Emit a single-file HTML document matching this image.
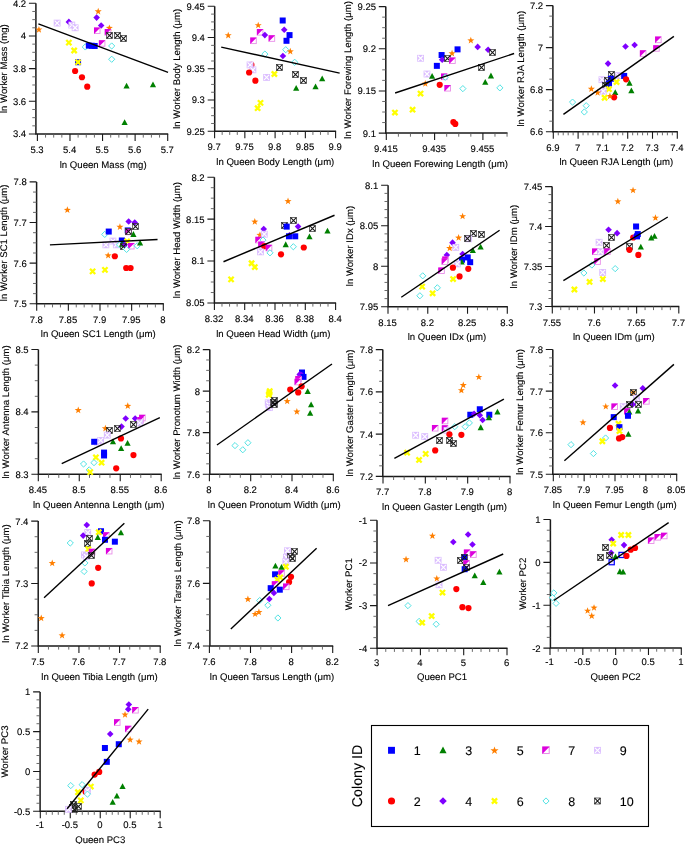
<!DOCTYPE html>
<html><head><meta charset="utf-8"><style>
html,body{margin:0;padding:0;background:#fff;}
svg{display:block;}
text{text-rendering:geometricPrecision;font-family:"Liberation Sans", sans-serif;font-size:9.5px;fill:#000;stroke:#000;stroke-width:0.12px;}
</style></head><body>
<div style="position:relative;width:685px;height:844px;overflow:hidden">
<svg width="685" height="844" viewBox="0 0 685 844" style="position:absolute;left:0;top:0">
<defs>
<g id="m1"><rect x="-3" y="-3" width="6" height="6" fill="#0000ff"/></g>
<g id="m2"><circle r="3.1" fill="#ff0000"/></g>
<g id="m3"><path d="M0 -3.3L3.1 2.5H-3.1Z" fill="#008000"/></g>
<g id="m4"><path d="M0 -3.3L3.3 0L0 3.3L-3.3 0Z" fill="#7f00ff"/></g>
<g id="m5"><polygon points="0,-3.4 0.88,-0.91 3.52,-0.84 1.43,0.76 2.17,3.29 0,1.8 -2.17,3.29 -1.43,0.76 -3.52,-0.84 -0.88,-0.91" fill="#ff7f00"/></g>
<g id="m6"><path d="M-2.6 -2.6L2.6 2.6M2.6 -2.6L-2.6 2.6" stroke="#ffff00" stroke-width="2.3"/></g>
<g id="m7"><rect x="-2.8" y="-2.8" width="5.6" height="5.6" fill="#fff" stroke="#e88ee8" stroke-width="0.9"/><path d="M-3.25 -3.25H3.25L-3.25 3.25Z" fill="#dd00dd"/></g>
<g id="m8"><path d="M0 -3.1L3.1 0L0 3.1L-3.1 0Z" fill="#fff" stroke="#40dfe0" stroke-width="0.9"/></g>
<g id="m9"><rect x="-3.4" y="-3.4" width="6.8" height="6.8" fill="#dbbdff"/><path d="M-2.5 -2.5L2.5 2.5M2.5 -2.5L-2.5 2.5" stroke="#fff" stroke-width="1.15"/></g>
<g id="m10"><rect x="-3" y="-3" width="6" height="6" fill="none" stroke="#333" stroke-width="0.7"/><path d="M-2.8 -2.8L2.8 2.8M2.8 -2.8L-2.8 2.8" stroke="#1a1a1a" stroke-width="1.1"/></g>
<g id="m11"><rect x="-2.6" y="-2.6" width="5.2" height="5.2" fill="#efe4ff" stroke="#0000ff" stroke-width="1.2"/></g>
</defs>
<g><path d="M35.9 3.3V134.6M35.2 134H168.2" stroke="#1a1a1a" stroke-width="1.5" fill="none"/><path d="M37.4 134v7M69.98 134v7M102.55 134v7M135.12 134v7M167.7 134v7M35.9 134h-7M35.9 101.32h-7M35.9 68.65h-7M35.9 35.98h-7M35.9 3.3h-7" stroke="#1a1a1a" stroke-width="1.1" fill="none"/><path d="M45.54 134v3.6M53.69 134v3.6M61.83 134v3.6M78.12 134v3.6M86.26 134v3.6M94.41 134v3.6M110.69 134v3.6M118.84 134v3.6M126.98 134v3.6M143.27 134v3.6M151.41 134v3.6M159.56 134v3.6M35.9 125.83h-3.6M35.9 117.66h-3.6M35.9 109.49h-3.6M35.9 93.16h-3.6M35.9 84.99h-3.6M35.9 76.82h-3.6M35.9 60.48h-3.6M35.9 52.31h-3.6M35.9 44.14h-3.6M35.9 27.81h-3.6M35.9 19.64h-3.6M35.9 11.47h-3.6" stroke="#5a5a5a" stroke-width="0.9" fill="none"/><use href="#m5" x="38.93" y="29.34"/><use href="#m9" x="57.13" y="23.08"/><use href="#m4" x="68.86" y="21.91"/><use href="#m9" x="71.8" y="25.04"/><use href="#m9" x="75.12" y="27.78"/><use href="#m5" x="98.21" y="11.15"/><use href="#m4" x="96.64" y="17.61"/><use href="#m4" x="101.14" y="25.43"/><use href="#m7" x="97.23" y="30.71"/><use href="#m5" x="109.36" y="27.78"/><use href="#m7" x="107.99" y="32.28"/><use href="#m10" x="109.5" y="35.5"/><use href="#m10" x="117.5" y="35.5"/><use href="#m10" x="123.5" y="38.5"/><use href="#m7" x="102.12" y="43.43"/><use href="#m6" x="68.86" y="42.64"/><use href="#m6" x="74.15" y="50.47"/><use href="#m8" x="85.3" y="46.95"/><use href="#m1" x="88.82" y="45.58"/><use href="#m1" x="91.75" y="45.77"/><use href="#m1" x="94.69" y="45.97"/><use href="#m8" x="111.7" y="45.97"/><use href="#m8" x="111.7" y="59.27"/><use href="#m1" x="78.06" y="62.21"/><use href="#m6" x="78.06" y="62.21"/><use href="#m2" x="75.12" y="71.01"/><use href="#m2" x="81.97" y="77.27"/><use href="#m2" x="87.25" y="86.66"/><use href="#m3" x="126.57" y="86.07"/><use href="#m3" x="152.98" y="84.7"/><use href="#m3" x="124.62" y="122.46"/><path d="M38.35 23.87L168.04 72.38" stroke="#000" stroke-width="1.4"/></g>
<g><path d="M214.7 6.3V131.9M214 131.3H336.1" stroke="#1a1a1a" stroke-width="1.5" fill="none"/><path d="M214.6 131.3v7M244.85 131.3v7M275.1 131.3v7M305.35 131.3v7M335.6 131.3v7M214.7 131.3h-7M214.7 100.05h-7M214.7 68.8h-7M214.7 37.55h-7M214.7 6.3h-7" stroke="#1a1a1a" stroke-width="1.1" fill="none"/><path d="M222.16 131.3v3.6M229.73 131.3v3.6M237.29 131.3v3.6M252.41 131.3v3.6M259.98 131.3v3.6M267.54 131.3v3.6M282.66 131.3v3.6M290.23 131.3v3.6M297.79 131.3v3.6M312.91 131.3v3.6M320.48 131.3v3.6M328.04 131.3v3.6M214.7 123.49h-3.6M214.7 115.67h-3.6M214.7 107.86h-3.6M214.7 92.24h-3.6M214.7 84.42h-3.6M214.7 76.61h-3.6M214.7 60.99h-3.6M214.7 53.17h-3.6M214.7 45.36h-3.6M214.7 29.74h-3.6M214.7 21.92h-3.6M214.7 14.11h-3.6" stroke="#5a5a5a" stroke-width="0.9" fill="none"/><use href="#m5" x="228.23" y="35.11"/><use href="#m5" x="258.22" y="25.05"/><use href="#m7" x="260.12" y="32.26"/><use href="#m4" x="264.86" y="35.11"/><use href="#m7" x="253.48" y="40.8"/><use href="#m7" x="271.89" y="38.53"/><use href="#m1" x="282.7" y="20.5"/><use href="#m4" x="284.22" y="29.8"/><use href="#m1" x="289.54" y="35.11"/><use href="#m1" x="286.5" y="40.8"/><use href="#m8" x="285.74" y="49.72"/><use href="#m5" x="290.3" y="51.24"/><use href="#m8" x="264.86" y="54.09"/><use href="#m4" x="282.89" y="55.99"/><use href="#m8" x="294.66" y="62.25"/><use href="#m2" x="251.39" y="64.91"/><use href="#m9" x="250.06" y="64.91"/><use href="#m9" x="252.91" y="69.84"/><use href="#m2" x="249.11" y="72.5"/><use href="#m2" x="255.37" y="80.66"/><use href="#m9" x="266.57" y="77.43"/><use href="#m6" x="274.35" y="74.02"/><use href="#m10" x="279.5" y="67.5"/><use href="#m10" x="295.5" y="74.5"/><use href="#m10" x="303.5" y="80.5"/><use href="#m3" x="322.18" y="78.76"/><use href="#m3" x="315.54" y="86.73"/><use href="#m3" x="296.18" y="88.25"/><use href="#m6" x="260.5" y="102.87"/><use href="#m6" x="257.65" y="108.18"/><path d="M221.21 47.07L339.64 73.07" stroke="#000" stroke-width="1.4"/></g>
<g><path d="M385.8 6.6V133.7M385.1 133.1H507.55" stroke="#1a1a1a" stroke-width="1.5" fill="none"/><path d="M386.3 133.1v7M434.6 133.1v7M482.9 133.1v7M385.8 133.1h-7M385.8 90.93h-7M385.8 48.77h-7M385.8 6.6h-7" stroke="#1a1a1a" stroke-width="1.1" fill="none"/><path d="M398.38 133.1v3.6M410.45 133.1v3.6M422.53 133.1v3.6M446.68 133.1v3.6M458.75 133.1v3.6M470.83 133.1v3.6M494.98 133.1v3.6M507.05 133.1v3.6M385.8 122.56h-3.6M385.8 112.02h-3.6M385.8 101.48h-3.6M385.8 80.39h-3.6M385.8 69.85h-3.6M385.8 59.31h-3.6M385.8 38.22h-3.6M385.8 27.68h-3.6M385.8 17.14h-3.6" stroke="#5a5a5a" stroke-width="0.9" fill="none"/><use href="#m5" x="470.84" y="40.24"/><use href="#m4" x="477.67" y="46.88"/><use href="#m4" x="488.11" y="49.72"/><use href="#m10" x="492.5" y="52.5"/><use href="#m1" x="457.55" y="49.35"/><use href="#m5" x="452.05" y="53.14"/><use href="#m1" x="441.61" y="55.04"/><use href="#m4" x="442.18" y="59.78"/><use href="#m10" x="447.5" y="58.5"/><use href="#m7" x="452.43" y="60.73"/><use href="#m9" x="420.54" y="58.27"/><use href="#m1" x="436.86" y="65.86"/><use href="#m10" x="481.5" y="67.5"/><use href="#m9" x="426.99" y="74.02"/><use href="#m3" x="432.12" y="76.3"/><use href="#m7" x="444.27" y="76.86"/><use href="#m8" x="445.21" y="77.24"/><use href="#m3" x="490.95" y="75.92"/><use href="#m3" x="485.26" y="82.18"/><use href="#m5" x="425.29" y="83.51"/><use href="#m2" x="439.71" y="84.84"/><use href="#m7" x="447.68" y="88.25"/><use href="#m8" x="462.86" y="88.63"/><use href="#m8" x="499.87" y="87.87"/><use href="#m6" x="420.54" y="93.57"/><use href="#m6" x="412.57" y="109.7"/><use href="#m6" x="394.92" y="112.55"/><use href="#m2" x="453.38" y="122.03"/><use href="#m2" x="455.27" y="123.93"/><path d="M395.11 93L514.11 53.52" stroke="#000" stroke-width="1.4"/></g>
<g><path d="M552.9 5.6V132.3M552.2 131.7H677.8" stroke="#1a1a1a" stroke-width="1.5" fill="none"/><path d="M553.3 131.7v7M578.1 131.7v7M602.9 131.7v7M627.7 131.7v7M652.5 131.7v7M677.3 131.7v7M552.9 131.7h-7M552.9 89.67h-7M552.9 47.63h-7M552.9 5.6h-7" stroke="#1a1a1a" stroke-width="1.1" fill="none"/><path d="M558.26 131.7v3.6M563.22 131.7v3.6M568.18 131.7v3.6M573.14 131.7v3.6M583.06 131.7v3.6M588.02 131.7v3.6M592.98 131.7v3.6M597.94 131.7v3.6M607.86 131.7v3.6M612.82 131.7v3.6M617.78 131.7v3.6M622.74 131.7v3.6M632.66 131.7v3.6M637.62 131.7v3.6M642.58 131.7v3.6M647.54 131.7v3.6M657.46 131.7v3.6M662.42 131.7v3.6M667.38 131.7v3.6M672.34 131.7v3.6M552.9 121.19h-3.6M552.9 110.68h-3.6M552.9 100.17h-3.6M552.9 79.16h-3.6M552.9 68.65h-3.6M552.9 58.14h-3.6M552.9 37.13h-3.6M552.9 26.62h-3.6M552.9 16.11h-3.6" stroke="#5a5a5a" stroke-width="0.9" fill="none"/><use href="#m7" x="658.33" y="39.86"/><use href="#m7" x="656.44" y="48.4"/><use href="#m7" x="643.15" y="53.52"/><use href="#m4" x="625.5" y="46.5"/><use href="#m4" x="634.61" y="44.98"/><use href="#m4" x="608.04" y="63.58"/><use href="#m9" x="601.97" y="79.71"/><use href="#m9" x="618.48" y="75.54"/><use href="#m1" x="624.17" y="75.92"/><use href="#m2" x="626.07" y="79.33"/><use href="#m10" x="611.5" y="74.5"/><use href="#m1" x="610.89" y="78.76"/><use href="#m10" x="607.5" y="80.5"/><use href="#m1" x="608.99" y="83.51"/><use href="#m10" x="605.5" y="85.5"/><use href="#m6" x="616.58" y="81.99"/><use href="#m3" x="629.49" y="83.13"/><use href="#m3" x="631.38" y="90.72"/><use href="#m6" x="608.99" y="89.2"/><use href="#m9" x="603.29" y="91.1"/><use href="#m5" x="591.34" y="88.63"/><use href="#m5" x="597.6" y="92.43"/><use href="#m3" x="615.25" y="92.43"/><use href="#m2" x="614.11" y="97.36"/><use href="#m5" x="609.94" y="95.84"/><use href="#m6" x="604.62" y="97.74"/><use href="#m8" x="572.55" y="102.11"/><use href="#m8" x="586.21" y="105.71"/><use href="#m8" x="584.32" y="111.98"/><path d="M563.44 114.44L673.9 36.44" stroke="#000" stroke-width="1.4"/></g>
<g><path d="M36.6 181.9V304.4M35.9 303.8H163.8" stroke="#1a1a1a" stroke-width="1.5" fill="none"/><path d="M36.7 303.8v7M68.35 303.8v7M100 303.8v7M131.65 303.8v7M163.3 303.8v7M36.6 303.8h-7M36.6 263.17h-7M36.6 222.53h-7M36.6 181.9h-7" stroke="#1a1a1a" stroke-width="1.1" fill="none"/><path d="M44.61 303.8v3.6M52.52 303.8v3.6M60.44 303.8v3.6M76.26 303.8v3.6M84.18 303.8v3.6M92.09 303.8v3.6M107.91 303.8v3.6M115.82 303.8v3.6M123.74 303.8v3.6M139.56 303.8v3.6M147.47 303.8v3.6M155.39 303.8v3.6M36.6 293.64h-3.6M36.6 283.48h-3.6M36.6 273.33h-3.6M36.6 253.01h-3.6M36.6 242.85h-3.6M36.6 232.69h-3.6M36.6 212.38h-3.6M36.6 202.22h-3.6M36.6 192.06h-3.6" stroke="#5a5a5a" stroke-width="0.9" fill="none"/><use href="#m5" x="67.37" y="209.73"/><use href="#m4" x="128.67" y="221.5"/><use href="#m4" x="134.74" y="222.45"/><use href="#m10" x="135.5" y="226.5"/><use href="#m5" x="119.94" y="226.62"/><use href="#m8" x="104.75" y="234.4"/><use href="#m1" x="108.74" y="231.56"/><use href="#m1" x="127.72" y="230.42"/><use href="#m7" x="128.67" y="231.94"/><use href="#m10" x="128.5" y="231.5"/><use href="#m3" x="133.41" y="234.4"/><use href="#m1" x="121.84" y="240.48"/><use href="#m9" x="112.92" y="241.05"/><use href="#m9" x="105.89" y="244.84"/><use href="#m9" x="116.33" y="244.84"/><use href="#m8" x="119.56" y="244.84"/><use href="#m3" x="122.03" y="244.27"/><use href="#m6" x="127.15" y="241.43"/><use href="#m4" x="124.68" y="244.84"/><use href="#m10" x="123.5" y="246.5"/><use href="#m7" x="131.33" y="246.17"/><use href="#m8" x="126.58" y="249.4"/><use href="#m8" x="137.21" y="245.79"/><use href="#m3" x="140.06" y="242.94"/><use href="#m5" x="108.17" y="255.28"/><use href="#m2" x="114.81" y="256.23"/><use href="#m2" x="126.2" y="268"/><use href="#m2" x="130.57" y="268"/><use href="#m6" x="92.61" y="271.41"/><use href="#m6" x="104.94" y="269.89"/><path d="M49.91 244.84L157.52 239.53" stroke="#000" stroke-width="1.4"/></g>
<g><path d="M214.4 177.2V303.6M213.7 303H336.1" stroke="#1a1a1a" stroke-width="1.5" fill="none"/><path d="M214.4 303v7M244.7 303v7M275 303v7M305.3 303v7M335.6 303v7M214.4 303h-7M214.4 261.07h-7M214.4 219.13h-7M214.4 177.2h-7" stroke="#1a1a1a" stroke-width="1.1" fill="none"/><path d="M221.97 303v3.6M229.55 303v3.6M237.13 303v3.6M252.27 303v3.6M259.85 303v3.6M267.43 303v3.6M282.57 303v3.6M290.15 303v3.6M297.72 303v3.6M312.87 303v3.6M320.45 303v3.6M328.02 303v3.6M214.4 292.52h-3.6M214.4 282.03h-3.6M214.4 271.55h-3.6M214.4 250.58h-3.6M214.4 240.1h-3.6M214.4 229.62h-3.6M214.4 208.65h-3.6M214.4 198.17h-3.6M214.4 187.68h-3.6" stroke="#5a5a5a" stroke-width="0.9" fill="none"/><use href="#m5" x="288.02" y="201"/><use href="#m5" x="254.8" y="221.5"/><use href="#m10" x="293.5" y="220.5"/><use href="#m10" x="284.5" y="225.5"/><use href="#m1" x="286.69" y="226.62"/><use href="#m4" x="298.08" y="226.62"/><use href="#m10" x="312.5" y="228.5"/><use href="#m3" x="327.49" y="230.99"/><use href="#m4" x="263.72" y="229.09"/><use href="#m5" x="259.93" y="234.78"/><use href="#m9" x="264.29" y="234.21"/><use href="#m7" x="258.6" y="240.1"/><use href="#m8" x="262.97" y="240.1"/><use href="#m4" x="289.54" y="235.35"/><use href="#m1" x="288.97" y="236.3"/><use href="#m1" x="295.23" y="236.3"/><use href="#m3" x="309.46" y="236.68"/><use href="#m3" x="285.74" y="244.65"/><use href="#m8" x="293.33" y="246.74"/><use href="#m2" x="303.77" y="247.5"/><use href="#m7" x="261.45" y="244.84"/><use href="#m2" x="264.29" y="246.17"/><use href="#m7" x="269.04" y="248.07"/><use href="#m9" x="260.5" y="251.86"/><use href="#m8" x="269.99" y="252.81"/><use href="#m2" x="281" y="254.33"/><use href="#m6" x="251.58" y="263.25"/><use href="#m6" x="254.8" y="267.05"/><use href="#m6" x="231.08" y="279.38"/><path d="M223.49 261.73L334.52 215.24" stroke="#000" stroke-width="1.4"/></g>
<g><path d="M388.1 185.3V307.3M387.4 306.7H507.8" stroke="#1a1a1a" stroke-width="1.5" fill="none"/><path d="M388 306.7v7M427.77 306.7v7M467.53 306.7v7M507.3 306.7v7M388.1 306.7h-7M388.1 266.23h-7M388.1 225.77h-7M388.1 185.3h-7" stroke="#1a1a1a" stroke-width="1.1" fill="none"/><path d="M397.94 306.7v3.6M407.88 306.7v3.6M417.82 306.7v3.6M437.71 306.7v3.6M447.65 306.7v3.6M457.59 306.7v3.6M477.47 306.7v3.6M487.42 306.7v3.6M497.36 306.7v3.6M388.1 298.61h-3.6M388.1 290.51h-3.6M388.1 282.42h-3.6M388.1 274.33h-3.6M388.1 258.14h-3.6M388.1 250.05h-3.6M388.1 241.95h-3.6M388.1 233.86h-3.6M388.1 217.67h-3.6M388.1 209.58h-3.6M388.1 201.49h-3.6M388.1 193.39h-3.6" stroke="#5a5a5a" stroke-width="0.9" fill="none"/><use href="#m5" x="462.59" y="216.06"/><use href="#m10" x="473.5" y="233.5"/><use href="#m10" x="481.5" y="234.5"/><use href="#m9" x="468.66" y="238.83"/><use href="#m10" x="467.5" y="238.5"/><use href="#m5" x="458.6" y="237.51"/><use href="#m4" x="452.53" y="242.63"/><use href="#m5" x="449.68" y="247.94"/><use href="#m9" x="455.75" y="247.38"/><use href="#m3" x="480.62" y="247"/><use href="#m3" x="472.84" y="250.6"/><use href="#m4" x="446.83" y="254.97"/><use href="#m7" x="445.51" y="259.71"/><use href="#m7" x="444.94" y="261.61"/><use href="#m4" x="462.59" y="254.02"/><use href="#m1" x="467.71" y="257.43"/><use href="#m1" x="462.02" y="259.71"/><use href="#m3" x="461.64" y="261.99"/><use href="#m1" x="470.18" y="262.18"/><use href="#m9" x="457.27" y="263.89"/><use href="#m2" x="452.91" y="267.68"/><use href="#m2" x="468.28" y="268.82"/><use href="#m7" x="441.52" y="270.72"/><use href="#m2" x="459.55" y="276.41"/><use href="#m6" x="453.1" y="279.07"/><use href="#m8" x="422.73" y="275.84"/><use href="#m6" x="422.16" y="286.66"/><use href="#m8" x="437.35" y="287.8"/><use href="#m6" x="432.6" y="293.3"/><use href="#m8" x="419.88" y="295.77"/><path d="M401.29 297.29L499.6 230.29" stroke="#000" stroke-width="1.4"/></g>
<g><path d="M552.1 186.6V307.1M551.4 306.5H679.3" stroke="#1a1a1a" stroke-width="1.5" fill="none"/><path d="M552.3 306.5v7M594.47 306.5v7M636.63 306.5v7M678.8 306.5v7M552.1 306.5h-7M552.1 266.53h-7M552.1 226.57h-7M552.1 186.6h-7" stroke="#1a1a1a" stroke-width="1.1" fill="none"/><path d="M560.73 306.5v3.6M569.17 306.5v3.6M577.6 306.5v3.6M586.03 306.5v3.6M602.9 306.5v3.6M611.33 306.5v3.6M619.77 306.5v3.6M628.2 306.5v3.6M645.07 306.5v3.6M653.5 306.5v3.6M661.93 306.5v3.6M670.37 306.5v3.6M552.1 298.51h-3.6M552.1 290.51h-3.6M552.1 282.52h-3.6M552.1 274.53h-3.6M552.1 258.54h-3.6M552.1 250.55h-3.6M552.1 242.55h-3.6M552.1 234.56h-3.6M552.1 218.57h-3.6M552.1 210.58h-3.6M552.1 202.59h-3.6M552.1 194.59h-3.6" stroke="#5a5a5a" stroke-width="0.9" fill="none"/><use href="#m5" x="633.04" y="190.06"/><use href="#m5" x="617.86" y="201.26"/><use href="#m5" x="655.44" y="217.58"/><use href="#m1" x="636.08" y="226.5"/><use href="#m4" x="608.56" y="229.72"/><use href="#m4" x="617.1" y="233.14"/><use href="#m2" x="633.23" y="237.51"/><use href="#m4" x="635.51" y="235.99"/><use href="#m1" x="637.78" y="234.09"/><use href="#m1" x="637.03" y="236.37"/><use href="#m10" x="611.5" y="237.5"/><use href="#m3" x="651.26" y="237.89"/><use href="#m3" x="654.49" y="236.37"/><use href="#m9" x="599.07" y="242.25"/><use href="#m10" x="606.5" y="245.5"/><use href="#m10" x="629.5" y="246.5"/><use href="#m2" x="629.43" y="249.84"/><use href="#m3" x="640.82" y="247"/><use href="#m7" x="595.27" y="251.74"/><use href="#m9" x="600.4" y="251.74"/><use href="#m7" x="607.42" y="251.74"/><use href="#m2" x="638.35" y="254.97"/><use href="#m7" x="597.55" y="261.61"/><use href="#m8" x="591.86" y="265.03"/><use href="#m8" x="615.2" y="268.63"/><use href="#m8" x="583.88" y="273"/><use href="#m9" x="602.67" y="272.43"/><use href="#m6" x="602.86" y="279.07"/><use href="#m6" x="589.58" y="281.92"/><use href="#m6" x="574.4" y="289.51"/><path d="M563.39 280.59L667.77 217.01" stroke="#000" stroke-width="1.4"/></g>
<g><path d="M38.4 349.5V474.9M37.7 474.3H161.7" stroke="#1a1a1a" stroke-width="1.5" fill="none"/><path d="M38.3 474.3v7M79.27 474.3v7M120.23 474.3v7M161.2 474.3v7M38.4 474.3h-7M38.4 411.9h-7M38.4 349.5h-7" stroke="#1a1a1a" stroke-width="1.1" fill="none"/><path d="M48.54 474.3v3.6M58.78 474.3v3.6M69.03 474.3v3.6M89.51 474.3v3.6M99.75 474.3v3.6M109.99 474.3v3.6M130.48 474.3v3.6M140.72 474.3v3.6M150.96 474.3v3.6M38.4 458.7h-3.6M38.4 443.1h-3.6M38.4 427.5h-3.6M38.4 396.3h-3.6M38.4 380.7h-3.6M38.4 365.1h-3.6" stroke="#5a5a5a" stroke-width="0.9" fill="none"/><use href="#m5" x="78.24" y="409.91"/><use href="#m5" x="127.77" y="405.73"/><use href="#m4" x="125.68" y="418.45"/><use href="#m4" x="135.17" y="418.45"/><use href="#m7" x="142.38" y="418.07"/><use href="#m7" x="140.49" y="420.35"/><use href="#m9" x="139.54" y="422.81"/><use href="#m10" x="133.5" y="424.5"/><use href="#m4" x="121.51" y="426.61"/><use href="#m10" x="117.5" y="428.5"/><use href="#m5" x="105.38" y="428.13"/><use href="#m10" x="109.5" y="430.5"/><use href="#m9" x="107.27" y="435.15"/><use href="#m2" x="120.94" y="438.38"/><use href="#m9" x="97.4" y="442.17"/><use href="#m9" x="100.63" y="440.46"/><use href="#m1" x="94.18" y="441.79"/><use href="#m3" x="112.97" y="441.79"/><use href="#m3" x="127.58" y="443.31"/><use href="#m3" x="121.13" y="448.44"/><use href="#m1" x="104.05" y="452.61"/><use href="#m1" x="104.05" y="455.46"/><use href="#m2" x="133.46" y="455.08"/><use href="#m6" x="95.89" y="457.36"/><use href="#m6" x="101.58" y="462.67"/><use href="#m8" x="83.55" y="464"/><use href="#m8" x="93.99" y="462.67"/><use href="#m8" x="89.24" y="469.88"/><use href="#m6" x="90.19" y="472.16"/><use href="#m2" x="116.19" y="468.36"/><path d="M61.72 463.62L159.84 417.69" stroke="#000" stroke-width="1.4"/></g>
<g><path d="M209.8 349.6V474.8M209.1 474.2H333.8" stroke="#1a1a1a" stroke-width="1.5" fill="none"/><path d="M209.4 474.2v7M250.7 474.2v7M292 474.2v7M333.3 474.2v7M209.8 474.2h-7M209.8 432.67h-7M209.8 391.13h-7M209.8 349.6h-7" stroke="#1a1a1a" stroke-width="1.1" fill="none"/><path d="M219.73 474.2v3.6M230.05 474.2v3.6M240.37 474.2v3.6M261.03 474.2v3.6M271.35 474.2v3.6M281.67 474.2v3.6M302.32 474.2v3.6M312.65 474.2v3.6M322.97 474.2v3.6M209.8 463.82h-3.6M209.8 453.43h-3.6M209.8 443.05h-3.6M209.8 422.28h-3.6M209.8 411.9h-3.6M209.8 401.52h-3.6M209.8 380.75h-3.6M209.8 370.37h-3.6M209.8 359.98h-3.6" stroke="#5a5a5a" stroke-width="0.9" fill="none"/><use href="#m1" x="302" y="372.52"/><use href="#m4" x="299.72" y="374.42"/><use href="#m4" x="301.62" y="374.99"/><use href="#m1" x="303.52" y="376.88"/><use href="#m4" x="299.15" y="377.26"/><use href="#m7" x="298.58" y="379.16"/><use href="#m7" x="297.82" y="382.01"/><use href="#m2" x="301.62" y="386.37"/><use href="#m2" x="290.23" y="389.6"/><use href="#m2" x="298.2" y="392.45"/><use href="#m3" x="307.69" y="391.5"/><use href="#m3" x="311.11" y="404.78"/><use href="#m3" x="310.16" y="413.32"/><use href="#m5" x="287.19" y="400.99"/><use href="#m5" x="296.87" y="411.43"/><use href="#m6" x="269.73" y="391.12"/><use href="#m6" x="269.35" y="392.83"/><use href="#m6" x="268.78" y="394.72"/><use href="#m9" x="268.21" y="402.89"/><use href="#m9" x="268.78" y="404.78"/><use href="#m9" x="269.35" y="407.63"/><use href="#m10" x="274.5" y="400.5"/><use href="#m10" x="273.5" y="402.5"/><use href="#m10" x="274.5" y="404.5"/><use href="#m8" x="235" y="445.59"/><use href="#m8" x="242.78" y="449.76"/><use href="#m8" x="247.91" y="442.74"/><path d="M216.97 445.02L331.98 363.98" stroke="#000" stroke-width="1.4"/></g>
<g><path d="M382.8 349.6V477M382.1 476.4H510.5" stroke="#1a1a1a" stroke-width="1.5" fill="none"/><path d="M383 476.4v7M425.33 476.4v7M467.67 476.4v7M510 476.4v7M382.8 476.4h-7M382.8 434.13h-7M382.8 391.87h-7M382.8 349.6h-7" stroke="#1a1a1a" stroke-width="1.1" fill="none"/><path d="M393.58 476.4v3.6M404.17 476.4v3.6M414.75 476.4v3.6M435.92 476.4v3.6M446.5 476.4v3.6M457.08 476.4v3.6M478.25 476.4v3.6M488.83 476.4v3.6M499.42 476.4v3.6M382.8 465.83h-3.6M382.8 455.27h-3.6M382.8 444.7h-3.6M382.8 423.57h-3.6M382.8 413h-3.6M382.8 402.43h-3.6M382.8 381.3h-3.6M382.8 370.73h-3.6M382.8 360.17h-3.6" stroke="#5a5a5a" stroke-width="0.9" fill="none"/><use href="#m5" x="478.84" y="376.8"/><use href="#m5" x="463.28" y="384.96"/><use href="#m5" x="461.38" y="390.08"/><use href="#m1" x="479.79" y="409.25"/><use href="#m1" x="470.3" y="414.75"/><use href="#m4" x="474.1" y="413.81"/><use href="#m4" x="479.79" y="415.32"/><use href="#m4" x="482.64" y="420.07"/><use href="#m1" x="489.28" y="414.75"/><use href="#m3" x="488.9" y="417.79"/><use href="#m3" x="497.44" y="412.1"/><use href="#m3" x="480.74" y="427.66"/><use href="#m7" x="445.06" y="421.02"/><use href="#m7" x="435.19" y="428.23"/><use href="#m7" x="445.06" y="428.61"/><use href="#m9" x="446.96" y="430.51"/><use href="#m8" x="454.74" y="426.71"/><use href="#m8" x="465.18" y="426.71"/><use href="#m8" x="469.35" y="422.92"/><use href="#m2" x="449.43" y="434.3"/><use href="#m2" x="461.38" y="434.87"/><use href="#m9" x="415.64" y="435.25"/><use href="#m9" x="424.75" y="436.58"/><use href="#m10" x="439.5" y="440.5"/><use href="#m10" x="449.5" y="440.5"/><use href="#m10" x="453.5" y="443.5"/><use href="#m2" x="435.19" y="450.44"/><use href="#m6" x="407.1" y="452.71"/><use href="#m6" x="425.7" y="453.85"/><use href="#m6" x="419.06" y="459.92"/><path d="M394.39 458.41L503.9 399.19" stroke="#000" stroke-width="1.4"/></g>
<g><path d="M552.8 349.5V474.9M552.1 474.3H677.2" stroke="#1a1a1a" stroke-width="1.5" fill="none"/><path d="M553.3 474.3v7M584.15 474.3v7M615 474.3v7M645.85 474.3v7M676.7 474.3v7M552.8 474.3h-7M552.8 432.7h-7M552.8 391.1h-7M552.8 349.5h-7" stroke="#1a1a1a" stroke-width="1.1" fill="none"/><path d="M559.47 474.3v3.6M565.64 474.3v3.6M571.81 474.3v3.6M577.98 474.3v3.6M590.32 474.3v3.6M596.49 474.3v3.6M602.66 474.3v3.6M608.83 474.3v3.6M621.17 474.3v3.6M627.34 474.3v3.6M633.51 474.3v3.6M639.68 474.3v3.6M652.02 474.3v3.6M658.19 474.3v3.6M664.36 474.3v3.6M670.53 474.3v3.6M552.8 465.98h-3.6M552.8 457.66h-3.6M552.8 449.34h-3.6M552.8 441.02h-3.6M552.8 424.38h-3.6M552.8 416.06h-3.6M552.8 407.74h-3.6M552.8 399.42h-3.6M552.8 382.78h-3.6M552.8 374.46h-3.6M552.8 366.14h-3.6M552.8 357.82h-3.6" stroke="#5a5a5a" stroke-width="0.9" fill="none"/><use href="#m4" x="615.06" y="385.43"/><use href="#m4" x="642.77" y="388.27"/><use href="#m5" x="633.09" y="392.45"/><use href="#m10" x="633.5" y="392.5"/><use href="#m9" x="636.51" y="398.14"/><use href="#m7" x="646.38" y="401.37"/><use href="#m10" x="638.5" y="404.5"/><use href="#m4" x="632.71" y="404.4"/><use href="#m10" x="629.5" y="404.5"/><use href="#m9" x="623.22" y="406.68"/><use href="#m7" x="614.68" y="406.68"/><use href="#m5" x="605.76" y="406.3"/><use href="#m7" x="627.4" y="411.43"/><use href="#m3" x="629.3" y="412"/><use href="#m3" x="638.03" y="411.05"/><use href="#m1" x="627.97" y="415.79"/><use href="#m1" x="613.73" y="417.12"/><use href="#m5" x="582.99" y="422.24"/><use href="#m6" x="618.48" y="423.76"/><use href="#m1" x="619.43" y="427.18"/><use href="#m6" x="619.43" y="430.97"/><use href="#m2" x="609.94" y="427.94"/><use href="#m3" x="628.35" y="434.2"/><use href="#m2" x="622.27" y="437.05"/><use href="#m2" x="619.05" y="438.38"/><use href="#m8" x="605.57" y="438"/><use href="#m6" x="602.35" y="441.22"/><use href="#m8" x="571.03" y="444.64"/><use href="#m8" x="593.43" y="453.56"/><path d="M564.39 460.77L673.9 364.36" stroke="#000" stroke-width="1.4"/></g>
<g><path d="M38.2 521.1V646.6M37.5 646H160.7" stroke="#1a1a1a" stroke-width="1.5" fill="none"/><path d="M38.3 646v7M78.93 646v7M119.57 646v7M160.2 646v7M38.2 646h-7M38.2 583.55h-7M38.2 521.1h-7" stroke="#1a1a1a" stroke-width="1.1" fill="none"/><path d="M48.46 646v3.6M58.62 646v3.6M68.77 646v3.6M89.09 646v3.6M99.25 646v3.6M109.41 646v3.6M129.72 646v3.6M139.88 646v3.6M150.04 646v3.6M38.2 630.39h-3.6M38.2 614.78h-3.6M38.2 599.16h-3.6M38.2 567.94h-3.6M38.2 552.33h-3.6M38.2 536.71h-3.6" stroke="#5a5a5a" stroke-width="0.9" fill="none"/><use href="#m4" x="86.78" y="524.97"/><use href="#m9" x="87.72" y="532.56"/><use href="#m1" x="101.01" y="531.23"/><use href="#m6" x="98.73" y="532.18"/><use href="#m3" x="120.94" y="532.75"/><use href="#m4" x="83.17" y="535.6"/><use href="#m10" x="89.5" y="538.5"/><use href="#m3" x="97.78" y="537.5"/><use href="#m7" x="106.32" y="535.41"/><use href="#m1" x="105" y="539.77"/><use href="#m1" x="114.86" y="541.67"/><use href="#m8" x="70.26" y="543"/><use href="#m10" x="87.5" y="543.5"/><use href="#m6" x="88.29" y="549.26"/><use href="#m7" x="92.09" y="552.11"/><use href="#m9" x="84.5" y="554.96"/><use href="#m9" x="86.4" y="556.48"/><use href="#m10" x="91.5" y="555.5"/><use href="#m7" x="109.17" y="551.16"/><use href="#m8" x="84.88" y="562.93"/><use href="#m8" x="84.12" y="571.47"/><use href="#m2" x="98.16" y="567.86"/><use href="#m2" x="91.71" y="583.43"/><use href="#m5" x="52.23" y="562.93"/><use href="#m5" x="41.23" y="617.97"/><use href="#m5" x="62.1" y="635.24"/><path d="M44.07 597.66L124.35 523.26" stroke="#000" stroke-width="1.4"/></g>
<g><path d="M209.9 520.8V646.6M209.2 646H333.2" stroke="#1a1a1a" stroke-width="1.5" fill="none"/><path d="M209.4 646v7M250.5 646v7M291.6 646v7M332.7 646v7M209.9 646h-7M209.9 583.4h-7M209.9 520.8h-7" stroke="#1a1a1a" stroke-width="1.1" fill="none"/><path d="M219.67 646v3.6M229.95 646v3.6M240.23 646v3.6M260.78 646v3.6M271.05 646v3.6M281.33 646v3.6M301.88 646v3.6M312.15 646v3.6M322.43 646v3.6M209.9 630.35h-3.6M209.9 614.7h-3.6M209.9 599.05h-3.6M209.9 567.75h-3.6M209.9 552.1h-3.6M209.9 536.45h-3.6" stroke="#5a5a5a" stroke-width="0.9" fill="none"/><use href="#m9" x="287.38" y="550.78"/><use href="#m10" x="294.5" y="551.5"/><use href="#m9" x="286.43" y="557.24"/><use href="#m10" x="290.5" y="556.5"/><use href="#m10" x="292.5" y="558.5"/><use href="#m9" x="285.86" y="561.6"/><use href="#m6" x="285.86" y="566.72"/><use href="#m3" x="275.43" y="565.97"/><use href="#m3" x="281.5" y="567.29"/><use href="#m1" x="275.05" y="574.32"/><use href="#m7" x="281.5" y="573.56"/><use href="#m6" x="280.17" y="577.35"/><use href="#m6" x="277.32" y="579.63"/><use href="#m2" x="290.99" y="576.78"/><use href="#m2" x="289.09" y="582.1"/><use href="#m7" x="275.05" y="584.38"/><use href="#m1" x="270.68" y="588.17"/><use href="#m1" x="279.79" y="589.69"/><use href="#m7" x="286.24" y="586.84"/><use href="#m4" x="273.91" y="592.92"/><use href="#m4" x="269.35" y="598.99"/><use href="#m5" x="247.91" y="598.99"/><use href="#m8" x="259.67" y="600.51"/><use href="#m8" x="267.83" y="605.25"/><use href="#m5" x="258.91" y="611.89"/><use href="#m5" x="255.12" y="613.79"/><use href="#m8" x="277.89" y="617.97"/><path d="M230.83 628.98L316.61 548.32" stroke="#000" stroke-width="1.4"/></g>
<g><path d="M377 520.3V648.9M376.3 648.3H507.5" stroke="#1a1a1a" stroke-width="1.5" fill="none"/><path d="M377.1 648.3v7M420.4 648.3v7M463.7 648.3v7M507 648.3v7M377 648.3h-7M377 605.63h-7M377 562.97h-7M377 520.3h-7" stroke="#1a1a1a" stroke-width="1.1" fill="none"/><path d="M385.76 648.3v3.6M394.42 648.3v3.6M403.08 648.3v3.6M411.74 648.3v3.6M429.06 648.3v3.6M437.72 648.3v3.6M446.38 648.3v3.6M455.04 648.3v3.6M472.36 648.3v3.6M481.02 648.3v3.6M489.68 648.3v3.6M498.34 648.3v3.6M377 637.63h-3.6M377 626.97h-3.6M377 616.3h-3.6M377 594.97h-3.6M377 584.3h-3.6M377 573.63h-3.6M377 552.3h-3.6M377 541.63h-3.6M377 530.97h-3.6" stroke="#5a5a5a" stroke-width="0.9" fill="none"/><use href="#m5" x="432.42" y="535.6"/><use href="#m4" x="468.1" y="534.46"/><use href="#m4" x="453.3" y="542.05"/><use href="#m4" x="472.46" y="544.52"/><use href="#m7" x="467.15" y="552.68"/><use href="#m7" x="473.41" y="554.58"/><use href="#m5" x="406.04" y="559.13"/><use href="#m9" x="438.11" y="560.27"/><use href="#m9" x="443.43" y="567.29"/><use href="#m10" x="460.5" y="560.5"/><use href="#m1" x="464.3" y="557.24"/><use href="#m10" x="464.5" y="557.5"/><use href="#m7" x="466.58" y="563.5"/><use href="#m1" x="464.68" y="569.19"/><use href="#m10" x="466.5" y="567.5"/><use href="#m3" x="474.74" y="575.83"/><use href="#m3" x="483.28" y="582.48"/><use href="#m3" x="499.41" y="572.04"/><use href="#m5" x="436.78" y="578.3"/><use href="#m9" x="439.06" y="584.75"/><use href="#m2" x="456.33" y="589.12"/><use href="#m6" x="442.48" y="592.54"/><use href="#m2" x="462.41" y="607.15"/><use href="#m2" x="468.48" y="608.1"/><use href="#m8" x="407.94" y="605.63"/><use href="#m6" x="431.66" y="616.07"/><use href="#m8" x="419.13" y="621.38"/><use href="#m6" x="422.17" y="622.71"/><use href="#m8" x="436.21" y="624.23"/><path d="M388.01 605.63L503.21 554.01" stroke="#000" stroke-width="1.4"/></g>
<g><path d="M550.4 519.5V648.7M549.7 648.1H681.8" stroke="#1a1a1a" stroke-width="1.5" fill="none"/><path d="M550 648.1v7M582.83 648.1v7M615.65 648.1v7M648.47 648.1v7M681.3 648.1v7M550.4 648.1h-7M550.4 605.23h-7M550.4 562.37h-7M550.4 519.5h-7" stroke="#1a1a1a" stroke-width="1.1" fill="none"/><path d="M558.21 648.1v3.6M566.41 648.1v3.6M574.62 648.1v3.6M591.03 648.1v3.6M599.24 648.1v3.6M607.44 648.1v3.6M623.86 648.1v3.6M632.06 648.1v3.6M640.27 648.1v3.6M656.68 648.1v3.6M664.89 648.1v3.6M673.09 648.1v3.6M550.4 637.38h-3.6M550.4 626.67h-3.6M550.4 615.95h-3.6M550.4 594.52h-3.6M550.4 583.8h-3.6M550.4 573.08h-3.6M550.4 551.65h-3.6M550.4 540.93h-3.6M550.4 530.22h-3.6" stroke="#5a5a5a" stroke-width="0.9" fill="none"/><use href="#m6" x="621.17" y="535.03"/><use href="#m6" x="628.38" y="535.03"/><use href="#m7" x="651.16" y="540.72"/><use href="#m7" x="657.8" y="537.31"/><use href="#m7" x="664.25" y="535.98"/><use href="#m4" x="611.68" y="539.77"/><use href="#m6" x="613.2" y="543.57"/><use href="#m4" x="624.02" y="545.09"/><use href="#m10" x="605.5" y="547.5"/><use href="#m2" x="630.66" y="549.64"/><use href="#m2" x="635.03" y="547.94"/><use href="#m4" x="611.11" y="552.68"/><use href="#m11" x="621.55" y="554.96"/><use href="#m2" x="626.49" y="555.91"/><use href="#m10" x="609.5" y="555.5"/><use href="#m3" x="615.48" y="556.86"/><use href="#m11" x="611.68" y="562.17"/><use href="#m10" x="600.5" y="557.5"/><use href="#m3" x="619.84" y="571.66"/><use href="#m3" x="623.07" y="572.04"/><use href="#m8" x="553.8" y="592.92"/><use href="#m8" x="552.47" y="597.66"/><use href="#m8" x="556.07" y="603.35"/><use href="#m5" x="594.03" y="607.53"/><use href="#m5" x="587.58" y="610.57"/><use href="#m5" x="591.75" y="615.69"/><path d="M553.8 600.51L668.62 522.69" stroke="#000" stroke-width="1.4"/></g>
<g><path d="M40.1 691.9V811.8M39.4 811.2H160.7" stroke="#1a1a1a" stroke-width="1.5" fill="none"/><path d="M40.3 811.2v7M70.27 811.2v7M100.25 811.2v7M130.22 811.2v7M160.2 811.2v7M40.1 811.2h-7M40.1 771.43h-7M40.1 731.67h-7M40.1 691.9h-7" stroke="#1a1a1a" stroke-width="1.1" fill="none"/><path d="M46.29 811.2v3.6M52.29 811.2v3.6M58.28 811.2v3.6M64.28 811.2v3.6M76.27 811.2v3.6M82.27 811.2v3.6M88.26 811.2v3.6M94.25 811.2v3.6M106.25 811.2v3.6M112.24 811.2v3.6M118.23 811.2v3.6M124.23 811.2v3.6M136.22 811.2v3.6M142.22 811.2v3.6M148.21 811.2v3.6M154.2 811.2v3.6M40.1 803.25h-3.6M40.1 795.29h-3.6M40.1 787.34h-3.6M40.1 779.39h-3.6M40.1 763.48h-3.6M40.1 755.53h-3.6M40.1 747.57h-3.6M40.1 739.62h-3.6M40.1 723.71h-3.6M40.1 715.76h-3.6M40.1 707.81h-3.6M40.1 699.85h-3.6" stroke="#5a5a5a" stroke-width="0.9" fill="none"/><use href="#m4" x="128.82" y="704.55"/><use href="#m4" x="128.25" y="709.29"/><use href="#m7" x="135.46" y="710.24"/><use href="#m5" x="125.03" y="714.42"/><use href="#m7" x="117.24" y="722.58"/><use href="#m7" x="128.25" y="729.03"/><use href="#m4" x="110.22" y="733.97"/><use href="#m5" x="130.15" y="739.47"/><use href="#m5" x="139.07" y="741.37"/><use href="#m1" x="118.76" y="744.21"/><use href="#m1" x="104.91" y="748.01"/><use href="#m1" x="106.81" y="761.86"/><use href="#m2" x="99.21" y="771.92"/><use href="#m2" x="94.66" y="774.58"/><use href="#m8" x="70.75" y="785.59"/><use href="#m8" x="82.13" y="784.64"/><use href="#m6" x="90.86" y="786.54"/><use href="#m6" x="77.96" y="792.23"/><use href="#m2" x="85.55" y="791.85"/><use href="#m9" x="87.45" y="790.33"/><use href="#m8" x="87.45" y="794.13"/><use href="#m6" x="80.8" y="800.39"/><use href="#m3" x="122.56" y="786.54"/><use href="#m3" x="116.86" y="796.03"/><use href="#m3" x="112.69" y="802.29"/><use href="#m10" x="73.5" y="804.5"/><use href="#m10" x="78.5" y="806.5"/><use href="#m10" x="72.5" y="807.5"/><use href="#m10" x="74.5" y="809.5"/><use href="#m9" x="68.47" y="809.31"/><path d="M67.14 808.74L148.18 709.1" stroke="#000" stroke-width="1.4"/></g>
<g><rect x="371.5" y="725.5" width="277" height="101" fill="none" stroke="#000" stroke-width="1.1"/><use href="#m1" transform="translate(391.5 750.3) scale(1.15)"/><use href="#m2" transform="translate(391.5 801) scale(1.15)"/><use href="#m3" transform="translate(443 750.3) scale(1.15)"/><use href="#m4" transform="translate(443 801) scale(1.15)"/><use href="#m5" transform="translate(494.5 750.3) scale(1.15)"/><use href="#m6" transform="translate(494.5 801) scale(1.0)"/><use href="#m7" transform="translate(546 750.3) scale(1.15)"/><use href="#m8" transform="translate(546 801) scale(1.0)"/><use href="#m9" transform="translate(597.5 750.3) scale(1.0)"/><use href="#m10" transform="translate(597.5 801) scale(1.0)"/></g>
</svg>
<svg width="685" height="844" viewBox="0 0 685 844" style="position:absolute;left:0;top:0;filter:grayscale(1)">
<text x="37" y="153" text-anchor="middle">5.3</text><text x="69.58" y="153" text-anchor="middle">5.4</text><text x="102.15" y="153" text-anchor="middle">5.5</text><text x="134.72" y="153" text-anchor="middle">5.6</text><text x="167.3" y="153" text-anchor="middle">5.7</text><text x="26.1" y="137.4" text-anchor="end">3.4</text><text x="26.1" y="104.72" text-anchor="end">3.6</text><text x="26.1" y="72.05" text-anchor="end">3.8</text><text x="26.1" y="39.38" text-anchor="end">4</text><text x="26.1" y="6.7" text-anchor="end">4.2</text><text x="103.2" y="167.5" text-anchor="middle" style="font-size:9.6px">ln Queen Mass (mg)</text><text transform="translate(6.5 68.65) rotate(-90)" text-anchor="middle" style="font-size:9.6px">ln Worker Mass (mg)</text>
<text x="214.2" y="150.3" text-anchor="middle">9.7</text><text x="244.45" y="150.3" text-anchor="middle">9.75</text><text x="274.7" y="150.3" text-anchor="middle">9.8</text><text x="304.95" y="150.3" text-anchor="middle">9.85</text><text x="335.2" y="150.3" text-anchor="middle">9.9</text><text x="204.9" y="134.7" text-anchor="end">9.25</text><text x="204.9" y="103.45" text-anchor="end">9.3</text><text x="204.9" y="72.2" text-anchor="end">9.35</text><text x="204.9" y="40.95" text-anchor="end">9.4</text><text x="204.9" y="9.7" text-anchor="end">9.45</text><text x="275.3" y="164.8" text-anchor="middle" style="font-size:9.6px">ln Queen Body Length (μm)</text><text transform="translate(180.01 68.8) rotate(-90)" text-anchor="middle" style="font-size:9.6px">ln Worker Body Length (μm)</text>
<text x="385.9" y="152.1" text-anchor="middle">9.415</text><text x="434.2" y="152.1" text-anchor="middle">9.435</text><text x="482.5" y="152.1" text-anchor="middle">9.455</text><text x="376" y="136.5" text-anchor="end">9.1</text><text x="376" y="94.33" text-anchor="end">9.15</text><text x="376" y="52.17" text-anchor="end">9.2</text><text x="376" y="10" text-anchor="end">9.25</text><text x="440.2" y="166.6" text-anchor="middle" style="font-size:9.6px">ln Queen Forewing Length (μm)</text><text transform="translate(351.11 69.85) rotate(-90)" text-anchor="middle" style="font-size:9.6px">ln Worker Forewing Length (μm)</text>
<text x="552.9" y="150.7" text-anchor="middle">6.9</text><text x="577.7" y="150.7" text-anchor="middle">7</text><text x="602.5" y="150.7" text-anchor="middle">7.1</text><text x="627.3" y="150.7" text-anchor="middle">7.2</text><text x="652.1" y="150.7" text-anchor="middle">7.3</text><text x="676.9" y="150.7" text-anchor="middle">7.4</text><text x="543.1" y="135.1" text-anchor="end">6.6</text><text x="543.1" y="93.07" text-anchor="end">6.8</text><text x="543.1" y="51.03" text-anchor="end">7</text><text x="543.1" y="9" text-anchor="end">7.2</text><text x="616.3" y="165.2" text-anchor="middle" style="font-size:9.6px">ln Queen RJA Length (μm)</text><text transform="translate(523.5 68.65) rotate(-90)" text-anchor="middle" style="font-size:9.6px">ln Worker RJA Length (μm)</text>
<text x="36.3" y="322.8" text-anchor="middle">7.8</text><text x="67.95" y="322.8" text-anchor="middle">7.85</text><text x="99.6" y="322.8" text-anchor="middle">7.9</text><text x="131.25" y="322.8" text-anchor="middle">7.95</text><text x="162.9" y="322.8" text-anchor="middle">8</text><text x="26.8" y="307.2" text-anchor="end">7.5</text><text x="26.8" y="266.57" text-anchor="end">7.6</text><text x="26.8" y="225.93" text-anchor="end">7.7</text><text x="26.8" y="185.3" text-anchor="end">7.8</text><text x="98.2" y="337.3" text-anchor="middle" style="font-size:9.6px">ln Queen SC1 Length (μm)</text><text transform="translate(7.2 242.85) rotate(-90)" text-anchor="middle" style="font-size:9.6px">ln Worker SC1 Length (μm)</text>
<text x="214" y="322" text-anchor="middle">8.32</text><text x="244.3" y="322" text-anchor="middle">8.34</text><text x="274.6" y="322" text-anchor="middle">8.36</text><text x="304.9" y="322" text-anchor="middle">8.38</text><text x="335.2" y="322" text-anchor="middle">8.4</text><text x="204.6" y="306.4" text-anchor="end">8.05</text><text x="204.6" y="264.47" text-anchor="end">8.1</text><text x="204.6" y="222.53" text-anchor="end">8.15</text><text x="204.6" y="180.6" text-anchor="end">8.2</text><text x="273.3" y="336.5" text-anchor="middle" style="font-size:9.6px">ln Queen Head Width (μm)</text><text transform="translate(179.71 240.1) rotate(-90)" text-anchor="middle" style="font-size:9.6px">ln Worker Head Width (μm)</text>
<text x="387.6" y="325.7" text-anchor="middle">8.15</text><text x="427.37" y="325.7" text-anchor="middle">8.2</text><text x="467.13" y="325.7" text-anchor="middle">8.25</text><text x="506.9" y="325.7" text-anchor="middle">8.3</text><text x="378.3" y="310.1" text-anchor="end">7.95</text><text x="378.3" y="269.63" text-anchor="end">8</text><text x="378.3" y="229.17" text-anchor="end">8.05</text><text x="378.3" y="188.7" text-anchor="end">8.1</text><text x="447" y="340.2" text-anchor="middle" style="font-size:9.6px">ln Queen IDx (μm)</text><text transform="translate(353.41 246) rotate(-90)" text-anchor="middle" style="font-size:9.6px">ln Worker IDx (μm)</text>
<text x="551.9" y="325.5" text-anchor="middle">7.55</text><text x="594.07" y="325.5" text-anchor="middle">7.6</text><text x="636.23" y="325.5" text-anchor="middle">7.65</text><text x="678.4" y="325.5" text-anchor="middle">7.7</text><text x="542.3" y="309.9" text-anchor="end">7.3</text><text x="542.3" y="269.93" text-anchor="end">7.35</text><text x="542.3" y="229.97" text-anchor="end">7.4</text><text x="542.3" y="190" text-anchor="end">7.45</text><text x="613.8" y="340" text-anchor="middle" style="font-size:9.6px">ln Queen IDm (μm)</text><text transform="translate(517.41 246.55) rotate(-90)" text-anchor="middle" style="font-size:9.6px">ln Worker IDm (μm)</text>
<text x="37.9" y="493.3" text-anchor="middle">8.45</text><text x="78.87" y="493.3" text-anchor="middle">8.5</text><text x="119.83" y="493.3" text-anchor="middle">8.55</text><text x="160.8" y="493.3" text-anchor="middle">8.6</text><text x="28.6" y="477.7" text-anchor="end">8.3</text><text x="28.6" y="415.3" text-anchor="end">8.4</text><text x="28.6" y="352.9" text-anchor="end">8.5</text><text x="98.7" y="507.8" text-anchor="middle" style="font-size:9.6px">ln Queen Antenna Length (μm)</text><text transform="translate(9 411.9) rotate(-90)" text-anchor="middle" style="font-size:9.6px">ln Worker Antenna Length (μm)</text>
<text x="209" y="493.2" text-anchor="middle">8</text><text x="250.3" y="493.2" text-anchor="middle">8.2</text><text x="291.6" y="493.2" text-anchor="middle">8.4</text><text x="332.9" y="493.2" text-anchor="middle">8.6</text><text x="200" y="477.6" text-anchor="end">7.6</text><text x="200" y="436.07" text-anchor="end">7.8</text><text x="200" y="394.53" text-anchor="end">8</text><text x="200" y="353" text-anchor="end">8.2</text><text x="274.3" y="507.7" text-anchor="middle" style="font-size:9.6px">ln Queen Pronotum Width (μm)</text><text transform="translate(180.4 411.9) rotate(-90)" text-anchor="middle" style="font-size:9.6px">ln Worker Pronotum Width (μm)</text>
<text x="382.6" y="495.4" text-anchor="middle">7.7</text><text x="424.93" y="495.4" text-anchor="middle">7.8</text><text x="467.27" y="495.4" text-anchor="middle">7.9</text><text x="509.6" y="495.4" text-anchor="middle">8</text><text x="373" y="479.8" text-anchor="end">7.2</text><text x="373" y="437.53" text-anchor="end">7.4</text><text x="373" y="395.27" text-anchor="end">7.6</text><text x="373" y="353" text-anchor="end">7.8</text><text x="444.5" y="509.9" text-anchor="middle" style="font-size:9.6px">ln Queen Gaster Length (μm)</text><text transform="translate(353.4 413) rotate(-90)" text-anchor="middle" style="font-size:9.6px">ln Worker Gaster Length (μm)</text>
<text x="552.9" y="493.3" text-anchor="middle">7.85</text><text x="583.75" y="493.3" text-anchor="middle">7.9</text><text x="614.6" y="493.3" text-anchor="middle">7.95</text><text x="645.45" y="493.3" text-anchor="middle">8</text><text x="676.3" y="493.3" text-anchor="middle">8.05</text><text x="543" y="477.7" text-anchor="end">7.5</text><text x="543" y="436.1" text-anchor="end">7.6</text><text x="543" y="394.5" text-anchor="end">7.7</text><text x="543" y="352.9" text-anchor="end">7.8</text><text x="614.8" y="507.8" text-anchor="middle" style="font-size:9.6px">ln Queen Femur Length (μm)</text><text transform="translate(523.4 411.9) rotate(-90)" text-anchor="middle" style="font-size:9.6px">ln Worker Femur Length (μm)</text>
<text x="37.9" y="665" text-anchor="middle">7.5</text><text x="78.53" y="665" text-anchor="middle">7.6</text><text x="119.17" y="665" text-anchor="middle">7.7</text><text x="159.8" y="665" text-anchor="middle">7.8</text><text x="28.4" y="649.4" text-anchor="end">7.2</text><text x="28.4" y="586.95" text-anchor="end">7.3</text><text x="28.4" y="524.5" text-anchor="end">7.4</text><text x="99.5" y="679.5" text-anchor="middle" style="font-size:9.6px">ln Queen Tibia Length (μm)</text><text transform="translate(8.8 583.55) rotate(-90)" text-anchor="middle" style="font-size:9.6px">ln Worker Tibia Length (μm)</text>
<text x="209" y="665" text-anchor="middle">7.6</text><text x="250.1" y="665" text-anchor="middle">7.8</text><text x="291.2" y="665" text-anchor="middle">8</text><text x="332.3" y="665" text-anchor="middle">8.2</text><text x="200.1" y="649.4" text-anchor="end">7.4</text><text x="200.1" y="586.8" text-anchor="end">7.6</text><text x="200.1" y="524.2" text-anchor="end">7.8</text><text x="272" y="679.5" text-anchor="middle" style="font-size:9.6px">ln Queen Tarsus Length (μm)</text><text transform="translate(180.5 583.4) rotate(-90)" text-anchor="middle" style="font-size:9.6px">ln Worker Tarsus Length (μm)</text>
<text x="376.7" y="665.5" text-anchor="middle">3</text><text x="420" y="665.5" text-anchor="middle">4</text><text x="463.3" y="665.5" text-anchor="middle">5</text><text x="506.6" y="665.5" text-anchor="middle">6</text><text x="367.2" y="651.7" text-anchor="end">-4</text><text x="367.2" y="609.03" text-anchor="end">-3</text><text x="367.2" y="566.37" text-anchor="end">-2</text><text x="367.2" y="523.7" text-anchor="end">-1</text><text x="442" y="680" text-anchor="middle" style="font-size:9.6px">Queen PC1</text><text transform="translate(352.35 584.3) rotate(-90)" text-anchor="middle" style="font-size:9.6px">Worker PC1</text>
<text x="549.6" y="665.3" text-anchor="middle">-1</text><text x="582.43" y="665.3" text-anchor="middle">-0.5</text><text x="615.25" y="665.3" text-anchor="middle">0</text><text x="648.07" y="665.3" text-anchor="middle">0.5</text><text x="680.9" y="665.3" text-anchor="middle">1</text><text x="540.6" y="651.5" text-anchor="end">-2</text><text x="540.6" y="608.63" text-anchor="end">-1</text><text x="540.6" y="565.77" text-anchor="end">0</text><text x="540.6" y="522.9" text-anchor="end">1</text><text x="615.6" y="679.8" text-anchor="middle" style="font-size:9.6px">Queen PC2</text><text transform="translate(525.75 583.8) rotate(-90)" text-anchor="middle" style="font-size:9.6px">Worker PC2</text>
<text x="39.9" y="828.4" text-anchor="middle">-1</text><text x="69.87" y="828.4" text-anchor="middle">-0.5</text><text x="99.85" y="828.4" text-anchor="middle">0</text><text x="129.82" y="828.4" text-anchor="middle">0.5</text><text x="159.8" y="828.4" text-anchor="middle">1</text><text x="30.3" y="814.6" text-anchor="end">-0.5</text><text x="30.3" y="774.83" text-anchor="end">0</text><text x="30.3" y="735.07" text-anchor="end">0.5</text><text x="30.3" y="695.3" text-anchor="end">1</text><text x="100.3" y="843.2" text-anchor="middle" style="font-size:9.6px">Queen PC3</text><text transform="translate(7.53 751.55) rotate(-90)" text-anchor="middle" style="font-size:9.6px">Worker PC3</text>
<text transform="translate(362.2 776) rotate(-90)" text-anchor="middle" style="font-size:14.2px">Colony ID</text><text x="413.8" y="754.8" style="font-size:12.5px">1</text><text x="413.8" y="805.5" style="font-size:12.5px">2</text><text x="465.3" y="754.8" style="font-size:12.5px">3</text><text x="465.3" y="805.5" style="font-size:12.5px">4</text><text x="516.8" y="754.8" style="font-size:12.5px">5</text><text x="516.8" y="805.5" style="font-size:12.5px">6</text><text x="568.3" y="754.8" style="font-size:12.5px">7</text><text x="568.3" y="805.5" style="font-size:12.5px">8</text><text x="619.8" y="754.8" style="font-size:12.5px">9</text><text x="619.8" y="805.5" style="font-size:12.5px">10</text>
</svg>
</div>
</body></html>
